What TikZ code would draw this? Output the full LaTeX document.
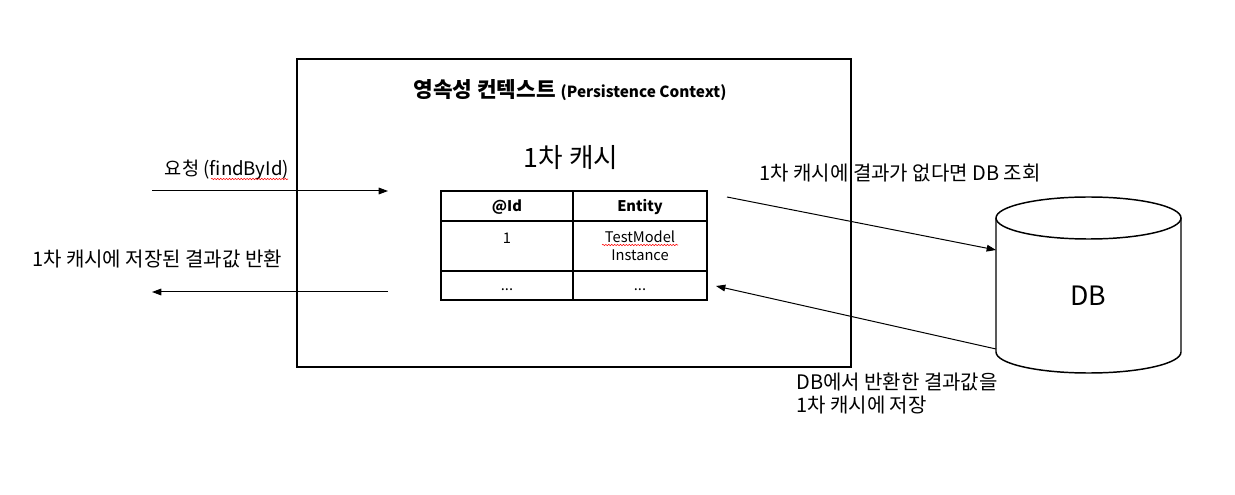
\documentclass[tikz,border=0pt]{standalone}
\usepackage{fontspec}
\setmainfont{Noto Sans CJK KR}
\usetikzlibrary{positioning,arrows.meta,decorations.pathmorphing}

\tikzset{
  label/.style={font=\fontsize{15}{17}\selectfont, inner sep=0pt},
  cell/.style={font=\fontsize{11}{13.5}\selectfont, inner sep=0pt},
  flow/.style={line width=0.75pt, -{Triangle[length=7pt,width=5pt]}},
  squiggle/.style={red, line width=0.4pt, decorate,
    decoration={snake, amplitude=0.5pt, segment length=2.2pt}}
}

\begin{document}
\begin{tikzpicture}[x=0.75pt,y=-0.75pt]
\useasboundingbox (0,0) rectangle (1235,495);

% persistence context
\draw [line width=1.5pt] (297,59) rectangle (851,367);
\node (title) at (570,90) {\fontsize{16}{19}\selectfont\bfseries 영속성 컨텍스트 \fontsize{11.5}{14}\selectfont (Persistence Context)};
\node (cachetitle) at (571,158) {\fontsize{20}{24}\selectfont 1차 캐시};

% table of the first level cache
\draw [line width=1.1pt] (441,191) rectangle (707,300);
\draw [line width=1.1pt] (441,221) -- (707,221);
\draw [line width=1.1pt] (441,271) -- (707,271);
\draw [line width=1.1pt] (573,191) -- (573,300);
\node[cell] (idhead) at (507,207) {\bfseries @Id};
\node[cell] (enthead) at (640,207) {\bfseries Entity};
\node[cell] (idval) at (507,238) {1};
\node[cell, align=center] (entval) at (640,246) {TestModel\\Instance};
\node[cell] (iddots) at (507,290) {...};
\node[cell] (entdots) at (640,290) {...};
\draw [squiggle] (602,245) -- (678,245);

% request and response
\coordinate (reqstart) at (152,191);
\coordinate (reqend) at (388,191);
\coordinate (resstart) at (388,292);
\coordinate (resend) at (152,292);
\node[label, font=\fontsize{14}{17}\selectfont] (req) at (227,170) {요청 (findById)};
\draw [squiggle] (211,179) -- (288,179);
\node[label] (res) at (157,259) {1차 캐시에 저장된 결과값 반환};
\draw [flow] (reqstart) -- (reqend);
\draw [flow] (resstart) -- (resend);

% database
\draw [line width=1.1pt] (1088.5,218) ellipse [x radius=69.375pt, y radius=15.75pt];
\draw [line width=1.1pt] (996,218) -- (996,352)
  arc [start angle=180, end angle=360, x radius=69.375pt, y radius=15.75pt] -- (1181,218);
\node (db) at (1088,296) {\fontsize{20}{24}\selectfont DB};
\coordinate (dbin) at (996,250);
\coordinate (dbout) at (996,349);
\coordinate (lookup) at (727,197);
\coordinate (store) at (716,286);
\node[label] (miss) at (900,173) {1차 캐시에 결과가 없다면 DB 조회};
\node[label, align=left, anchor=north west] (save) at (796,373) {DB에서 반환한 결과값을\\1차 캐시에 저장};
\draw [flow] (lookup) -- (dbin);
\draw [flow] (dbout) -- (store);
\end{tikzpicture}
\end{document}
